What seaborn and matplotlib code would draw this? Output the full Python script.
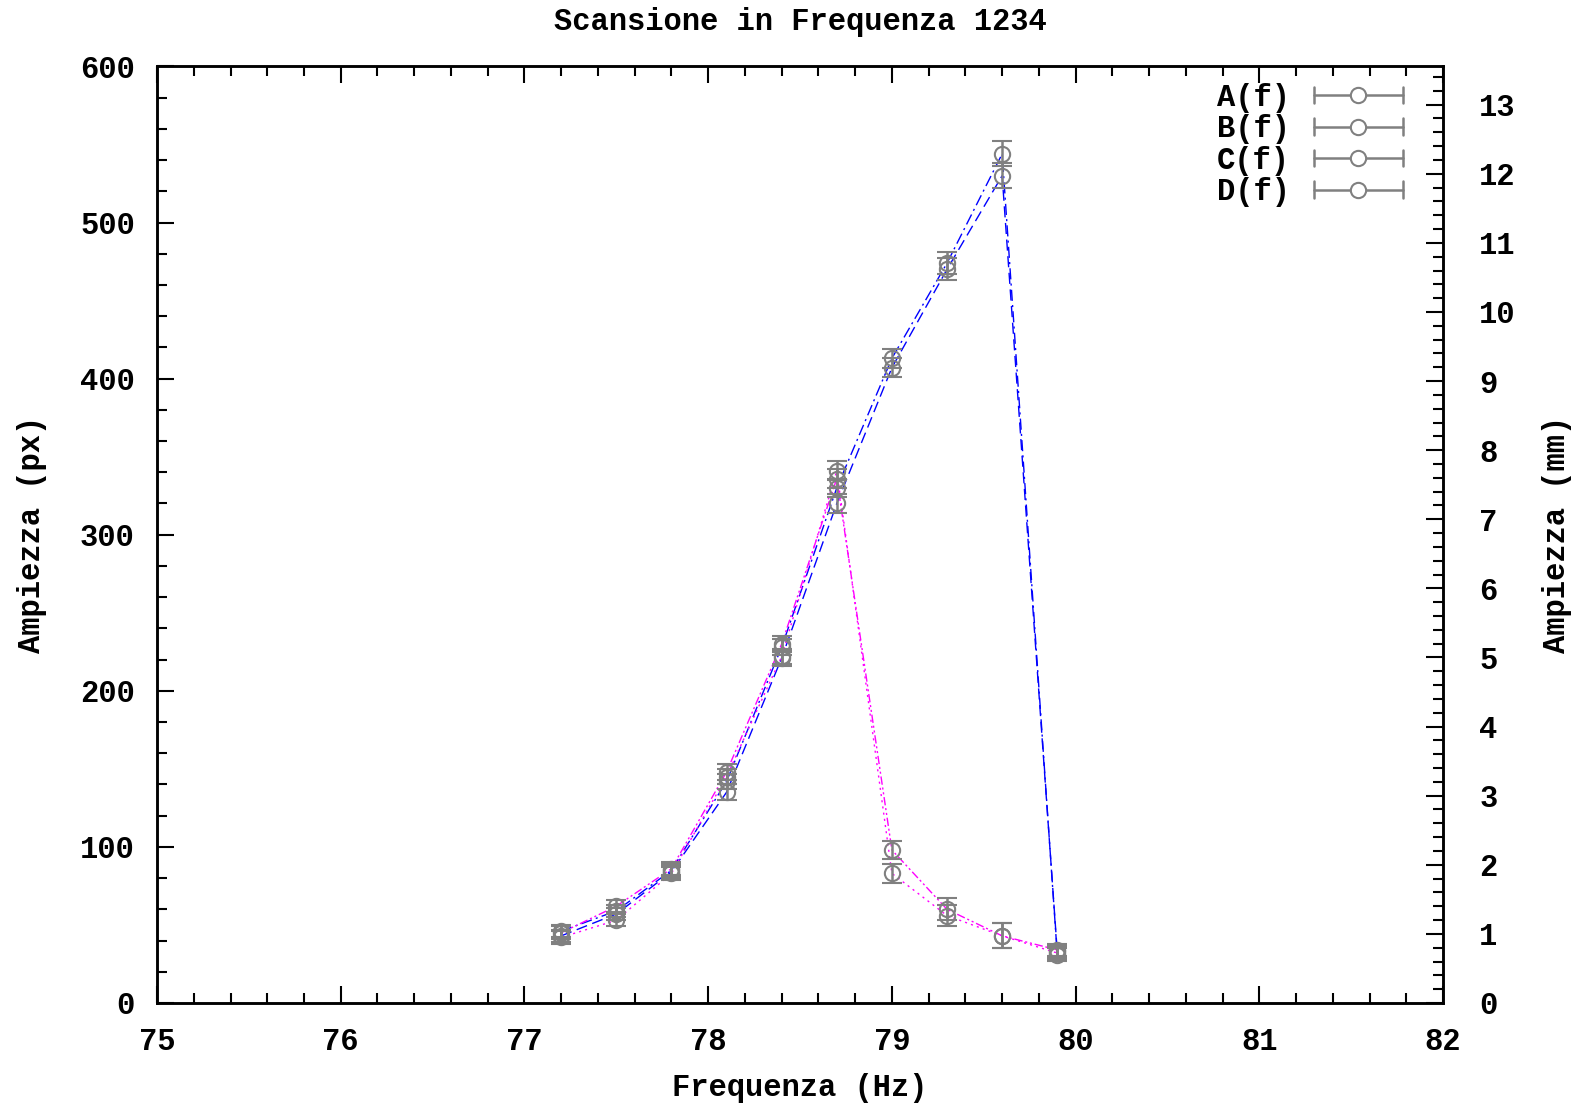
import numpy as np
import pandas as pd
import matplotlib
matplotlib.use("Agg")
import matplotlib.pyplot as plt
from matplotlib.lines import Line2D
from matplotlib.legend_handler import HandlerBase
from matplotlib.ticker import MultipleLocator
import seaborn as sns

# Frequency points (Hz)
freq = [77.2, 77.5, 77.8, 78.1, 78.4, 78.7, 79.0, 79.3, 79.6, 79.9]

# Amplitudes (px) and their errors
amp_a = [43, 57, 84, 135, 221, 320, 407, 470, 530, 33]
amp_b = [46, 59, 85, 142, 228, 330, 413, 474, 544, 31]
amp_c = [45, 62, 86, 148, 230, 336, 98, 60, 43, 34]
amp_d = [42, 53, 83, 145, 222, 341, 83, 56, 43, 32]
err_a = [4, 4, 4, 5, 5, 6, 6, 7, 8, 4]
err_b = [4, 4, 4, 5, 5, 6, 6, 7, 8, 4]
err_c = [4, 4, 4, 5, 5, 6, 6, 7, 8, 4]
err_d = [4, 4, 4, 5, 5, 6, 6, 7, 8, 4]

labels = ["A(f)", "B(f)", "C(f)", "D(f)"]
px_per_mm = 44.27

sns.set_theme(style="white")
plt.rcParams["font.family"] = ["Liberation Mono", "DejaVu Sans Mono"]
plt.rcParams["font.weight"] = "bold"
plt.rcParams["font.size"] = 22
plt.rcParams["text.color"] = "black"
plt.rcParams["axes.labelcolor"] = "black"
plt.rcParams["xtick.color"] = "black"
plt.rcParams["ytick.color"] = "black"

fig = plt.figure(figsize=(15.78, 11.09), dpi=100)
ax = fig.add_axes([0.0995, 0.0956, 0.815, 0.8445])

series = [(amp_a, err_a, "blue", (8, 4)),
          (amp_b, err_b, "blue", (8, 3, 1.5, 3)),
          (amp_c, err_c, "magenta", (6, 2, 1.5, 2, 1.5, 2)),
          (amp_d, err_d, "magenta", (1.5, 3))]

for amp, err, col, dash in series:
    df = pd.DataFrame({"f": freq, "a": amp})
    sns.lineplot(data=df, x="f", y="a", ax=ax, color=col, lw=1.0,
                 dashes=False, sort=False, estimator=None)
    ax.lines[-1].set_dashes(dash)

for amp, err, col, dash in series:
    ax.errorbar(freq, amp, yerr=err, fmt="o", mfc="none", mec="#808080",
                ms=11, mew=1.5, ecolor="#808080", elinewidth=1.8,
                capsize=7, capthick=1.8, zorder=3)

ax.set_xlim(75, 82)
ax.set_ylim(0, 600)
ax.xaxis.set_major_locator(MultipleLocator(1))
ax.xaxis.set_minor_locator(MultipleLocator(0.2))
ax.yaxis.set_major_locator(MultipleLocator(100))
ax.yaxis.set_minor_locator(MultipleLocator(20))
ax.tick_params(axis="x", which="both", direction="in", top=True, bottom=True,
               pad=17, labelsize=22, width=1.5)
ax.tick_params(axis="y", which="both", direction="in", left=True, right=False,
               pad=16, labelsize=22, width=1.5)
ax.tick_params(which="major", length=12)
ax.tick_params(which="minor", length=7)
for s in ax.spines.values():
    s.set_linewidth(1.8)
    s.set_color("black")

ax2 = ax.twinx()
ax2.set_ylim(0, 600 / px_per_mm)
ax2.yaxis.set_major_locator(MultipleLocator(1))
ax2.yaxis.set_minor_locator(MultipleLocator(0.2))
ax2.tick_params(axis="y", which="both", direction="in", right=True,
                pad=26, labelsize=22, width=1.5)
ax2.tick_params(which="major", length=12)
ax2.tick_params(which="minor", length=7)
ax2.grid(False)
for s in ax2.spines.values():
    s.set_linewidth(1.8)
    s.set_color("black")

ax.set_xlabel("Frequenza (Hz)", fontsize=22, fontweight="bold", labelpad=12)
ax.set_ylabel("Ampiezza (px)", fontsize=22, fontweight="bold", labelpad=24)
ax2.set_ylabel("Ampiezza (mm)", fontsize=22, fontweight="bold", rotation=90,
               labelpad=19)
ax.set_title("Scansione in Frequenza 1234", fontsize=22, fontweight="bold", pad=26)


# gnuplot-like legend sample: horizontal bar with caps and a circle
class HErrHandler(HandlerBase):
    def create_artists(self, legend, orig, xd, yd, w, h, fs, trans):
        y = yd + h / 2
        c = "#808080"
        bar = Line2D([xd, xd + w], [y, y], color=c, lw=1.8, transform=trans)
        cap1 = Line2D([xd, xd], [y - 6, y + 6], color=c, lw=1.8, transform=trans)
        cap2 = Line2D([xd + w, xd + w], [y - 6, y + 6], color=c, lw=1.8, transform=trans)
        dot = Line2D([xd + w / 2], [y], marker="o", ms=11, mfc="white",
                     mec=c, mew=1.5, transform=trans)
        return [bar, cap1, cap2, dot]


proxies = [Line2D([], []) for _ in labels]
ax2.legend(proxies, labels, handler_map={Line2D: HErrHandler()},
           loc="upper right", bbox_to_anchor=(0.99, 1.012), frameon=False,
           markerfirst=False, handlelength=2.9, handletextpad=0.8,
           labelspacing=0.05, prop={"family": "Liberation Mono",
                                    "weight": "bold", "size": 22})

fig.savefig("out.png", dpi=100)
